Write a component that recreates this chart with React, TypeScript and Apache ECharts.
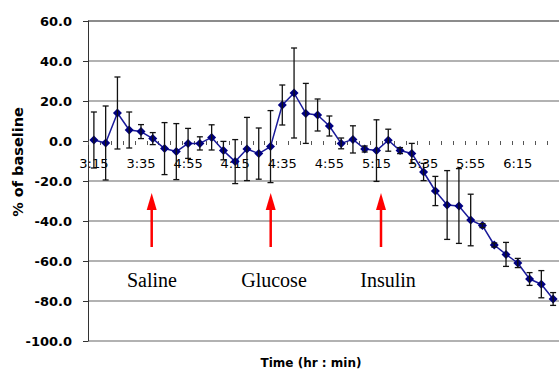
import React, { useEffect, useRef } from "react";
import * as echarts from "echarts";

// 5-minute sampling times (category axis)
const categories = [
  "3:15", "3:20", "3:25", "3:30", "3:35", "3:40", "3:45", "3:50", "3:55", "4:00",
  "4:05", "4:10", "4:15", "4:20", "4:25", "4:30", "4:35", "4:40", "4:45", "4:50",
  "4:55", "5:00", "5:05", "5:10", "5:15", "5:20", "5:25", "5:30", "5:35", "5:40",
  "5:45", "5:50", "5:55", "6:00", "6:05", "6:10", "6:15", "6:20", "6:25", "6:30",
];

// Tick labels as printed on the original chart (every 4th category)
const tickLabels = ["3:15", "3:35", "4:55", "4:15", "4:35", "4:55", "5:15", "5:35", "5:55", "6:15"];

// Mean % of baseline
const values = [
  0.5, -1, 14, 5.5, 4.7, 1.2, -3.8, -5.3, -1.2, -1.2,
  1.8, -4.8, -10.3, -4, -6.3, -2.8, 18, 24, 13.8, 13,
  7.5, -1.2, 0.8, -4, -4.8, 0.4, -4.8, -6.2, -15.5, -25,
  -32, -32.5, -39.5, -42.3, -52, -56.7, -61, -69, -71.6, -79,
];

// Symmetric error (±)
const errors = [
  14, 18.5, 18, 9, 3.5, 3, 13, 14, 7.5, 3.3,
  6.3, 4.6, 11, 15.8, 12.8, 18, 10, 22.5, 15, 8,
  5, 2.7, 6.8, 1.5, 15.4, 5.5, 1.5, 5, 4.3, 7.3,
  17.2, 18.7, 12.9, 1, 1, 6, 2.3, 3.2, 6.8, 3.2,
];

// Treatment annotations
const treatments = ["Saline", "Glucose", "Insulin"];

const yMin = -100;
const yMax = 60;
const yStep = 20;

export default function App() {
  const ref = useRef<HTMLDivElement>(null);

  useEffect(() => {
    if (!ref.current) return;
    const chart = echarts.init(ref.current, undefined, { renderer: "svg" });

    const gridTop = 21;
    const gridBottom = 30;
    const plotH = 371 - gridTop - gridBottom;
    // distance of the zero line above the bottom of the plot
    const zeroOffset = (plotH * (0 - yMin)) / (yMax - yMin);

    const arrowXs = [151.7, 270.7, 381];
    const textXs = [152, 274, 388];
    const graphics: any[] = [];
    arrowXs.forEach((x) => {
      graphics.push({
        type: "line",
        shape: { x1: x, y1: 247, x2: x, y2: 205 },
        style: { stroke: "#ff0000", lineWidth: 2.5 },
        z: 100,
      });
      graphics.push({
        type: "polygon",
        shape: { points: [[x, 193], [x - 5, 210], [x + 5, 210]] },
        style: { fill: "#ff0000" },
        z: 100,
      });
    });
    treatments.forEach((t, i) => {
      graphics.push({
        type: "text",
        x: textXs[i],
        y: 280,
        style: {
          text: t,
          fontFamily: "Liberation Serif",
          fontSize: 20,
          fill: "#000",
          align: "center",
          verticalAlign: "middle",
        },
        z: 100,
      });
    });
    graphics.push({
      type: "text",
      x: 18,
      y: 162,
      rotation: Math.PI / 2,
      style: {
        text: "% of baseline",
        fontFamily: "DejaVu Sans",
        fontWeight: "bold",
        fontSize: 14.5,
        fill: "#000",
        align: "center",
        verticalAlign: "middle",
      },
    });
    graphics.push({
      type: "text",
      x: 311,
      y: 363,
      style: {
        text: "Time (hr : min)",
        fontFamily: "DejaVu Sans",
        fontWeight: "bold",
        fontSize: 12,
        fill: "#000",
        align: "center",
        verticalAlign: "middle",
      },
    });

    const gridColors = ["#999", "#999", "#999", "#999", "#999", "rgba(0,0,0,0)", "#999", "#999", "#666"];

    chart.setOption({
      animation: false,
      backgroundColor: "#fff",
      grid: { left: 88, right: -2, top: gridTop, bottom: gridBottom, containLabel: false },
      xAxis: {
        type: "category",
        data: categories,
        boundaryGap: true,
        position: "bottom",
        offset: -zeroOffset,
        axisLine: { show: true, onZero: false, lineStyle: { color: "rgba(0,0,0,0)" } },
        axisTick: {
          show: true,
          interval: 0,
          length: 4,
          lineStyle: { color: "#555", width: 1 },
        },
        axisLabel: {
          interval: 3,
          margin: 16,
          fontFamily: "DejaVu Sans",
          fontSize: 13,
          color: "#000",
          formatter: (_v: string, idx: number) => tickLabels[Math.floor(idx / 4)] ?? "",
        },
        splitLine: { show: false },
      },
      yAxis: {
        type: "value",
        min: yMin,
        max: yMax,
        interval: yStep,
        axisLine: { show: true, lineStyle: { color: "#333", width: 1 } },
        axisTick: { show: true, length: 5, lineStyle: { color: "#333" } },
        axisLabel: {
          margin: 16,
          fontFamily: "DejaVu Sans",
          fontWeight: "bold",
          fontSize: 13,
          color: "#000",
          formatter: (v: number) => v.toFixed(1),
        },
        splitLine: { show: true, lineStyle: { color: gridColors, width: 1.5 } },
      },
      series: [
        {
          type: "line",
          data: values,
          symbol: "diamond",
          symbolSize: 9,
          showAllSymbol: true,
          itemStyle: { color: "#000080" },
          lineStyle: { color: "#1a1a9a", width: 1.5 },
          z: 3,
        },
        {
          type: "custom",
          data: categories.map((_, i) => [i, values[i], errors[i]]),
          encode: { x: 0, y: 1 },
          z: 4,
          renderItem: (_params: any, api: any) => {
            const x = api.value(0);
            const v = api.value(1);
            const e = api.value(2);
            const top = api.coord([x, v + e]);
            const bot = api.coord([x, v - e]);
            const w = 3;
            const st = { stroke: "#111", lineWidth: 1.3 };
            return {
              type: "group",
              children: [
                { type: "line", shape: { x1: top[0], y1: top[1], x2: bot[0], y2: bot[1] }, style: st },
                { type: "line", shape: { x1: top[0] - w, y1: top[1], x2: top[0] + w, y2: top[1] }, style: st },
                { type: "line", shape: { x1: bot[0] - w, y1: bot[1], x2: bot[0] + w, y2: bot[1] }, style: st },
              ],
            };
          },
        },
      ],
      graphic: graphics,
    });

    return () => chart.dispose();
  }, []);

  return (
    <div
      ref={ref}
      style={{ position: "absolute", left: 0, top: 0, width: 559, height: 371, background: "#fff" }}
    />
  );
}
